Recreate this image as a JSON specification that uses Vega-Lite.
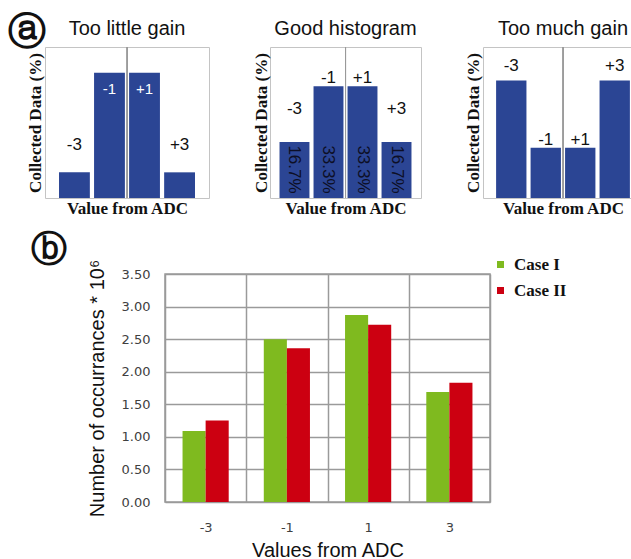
{
  "$schema": "https://vega.github.io/schema/vega-lite/v6.json",
  "background": "white",
  "padding": {"left": 8, "top": 14, "right": 0, "bottom": 0},
  "config": {"font": "Liberation Sans"},
  "title": {
    "text": "ⓐ",
    "anchor": "start",
    "frame": "group",
    "font": "DejaVu Sans",
    "fontSize": 38,
    "fontWeight": "bold",
    "color": "#111111",
    "baseline": "top",
    "offset": -34,
    "dx": -37
  },
  "datasets": {
    "gain": [
      {"panel": "low", "adc": "-3", "pct": 8.5},
      {"panel": "low", "adc": "-1", "pct": 41.5},
      {"panel": "low", "adc": "+1", "pct": 41.5},
      {"panel": "low", "adc": "+3", "pct": 8.5},
      {"panel": "good", "adc": "-3", "pct": 16.7},
      {"panel": "good", "adc": "-1", "pct": 33.3},
      {"panel": "good", "adc": "+1", "pct": 33.3},
      {"panel": "good", "adc": "+3", "pct": 16.7},
      {"panel": "high", "adc": "-3", "pct": 35},
      {"panel": "high", "adc": "-1", "pct": 15},
      {"panel": "high", "adc": "+1", "pct": 15},
      {"panel": "high", "adc": "+3", "pct": 35}
    ],
    "adc": [
      {"value": -3, "case": "Case I", "count": 1.09},
      {"value": -3, "case": "Case II", "count": 1.25},
      {"value": -1, "case": "Case I", "count": 2.50},
      {"value": -1, "case": "Case II", "count": 2.36},
      {"value": 1, "case": "Case I", "count": 2.87},
      {"value": 1, "case": "Case II", "count": 2.72},
      {"value": 3, "case": "Case I", "count": 1.69},
      {"value": 3, "case": "Case II", "count": 1.83}
    ]
  },
  "spacing": 14,
  "resolve": {"legend": {"color": "independent"}, "scale": {"color": "independent"}},
  "vconcat": [
    {
      "spacing": 41,
      "hconcat": [
        {
          "width": 164,
          "height": 151,
          "view": {"stroke": "#c4c4c4"},
          "title": {"text": "Too little gain", "fontSize": 20, "fontWeight": "normal", "color": "#111111", "baseline": "bottom", "offset": -12},
          "data": {"name": "gain"},
          "transform": [{"filter": "datum.panel === 'low'"}],
          "encoding": {
            "x": {
              "field": "adc", "type": "ordinal", "sort": ["-3", "-1", "+1", "+3"],
              "scale": {"paddingInner": 0.12, "paddingOuter": 0.4},
              "axis": {"title": "Value from ADC", "labels": false, "ticks": false, "domain": false, "grid": false, "titleFont": "Liberation Serif", "titleFontWeight": "bold", "titleFontSize": 17, "titleColor": "#111111", "titlePadding": 2}
            }
          },
          "layer": [
            {
              "mark": {"type": "bar", "color": "#2b4594"},
              "encoding": {
                "y": {
                  "field": "pct", "type": "quantitative", "scale": {"domain": [0, 45.4]},
                  "axis": {"title": "Collected Data (%)", "labels": false, "ticks": false, "domain": false, "grid": false, "titleFont": "Liberation Serif", "titleFontWeight": "bold", "titleFontSize": 17, "titleColor": "#111111", "titlePadding": 1}
                }
              }
            },
            {
              "mark": {"type": "rule", "color": "#999999", "xOffset": -2},
              "encoding": {"x": {"datum": "+1", "bandPosition": 0}}
            },
            {
              "transform": [{"filter": "datum.adc === '-3' || datum.adc === '+3'"}],
              "mark": {"type": "text", "baseline": "alphabetic", "dy": -22, "fontSize": 17, "color": "#111111"},
              "encoding": {
                "y": {"field": "pct", "type": "quantitative", "axis": {"title": "Collected Data (%)", "labels": false, "ticks": false, "domain": false, "grid": false, "titleFont": "Liberation Serif", "titleFontWeight": "bold", "titleFontSize": 17, "titleColor": "#111111", "titlePadding": 1}},
                "text": {"field": "adc"}
              }
            },
            {
              "transform": [{"filter": "datum.adc === '-1' || datum.adc === '+1'"}],
              "mark": {"type": "text", "baseline": "top", "dy": 9, "fontSize": 15, "color": "white"},
              "encoding": {
                "y": {"field": "pct", "type": "quantitative", "axis": {"title": "Collected Data (%)", "labels": false, "ticks": false, "domain": false, "grid": false, "titleFont": "Liberation Serif", "titleFontWeight": "bold", "titleFontSize": 17, "titleColor": "#111111", "titlePadding": 1}},
                "text": {"field": "adc"}
              }
            }
          ]
        },
        {
          "width": 151,
          "height": 151,
          "view": {"stroke": "#c4c4c4"},
          "title": {"text": "Good histogram", "fontSize": 20, "fontWeight": "normal", "color": "#111111", "baseline": "bottom", "offset": -12},
          "data": {"name": "gain"},
          "transform": [
            {"filter": "datum.panel === 'good'"},
            {"calculate": "format(datum.pct, '.1f') + '%'", "as": "share"}
          ],
          "encoding": {
            "x": {
              "field": "adc", "type": "ordinal", "sort": ["-3", "-1", "+1", "+3"],
              "scale": {"paddingInner": 0.12, "paddingOuter": 0.28},
              "axis": {"title": "Value from ADC", "labels": false, "ticks": false, "domain": false, "grid": false, "titleFont": "Liberation Serif", "titleFontWeight": "bold", "titleFontSize": 17, "titleColor": "#111111", "titlePadding": 2}
            }
          },
          "layer": [
            {
              "mark": {"type": "bar", "color": "#2b4594"},
              "encoding": {
                "y": {
                  "field": "pct", "type": "quantitative", "scale": {"domain": [0, 43]},
                  "axis": {"title": "Collected Data (%)", "labels": false, "ticks": false, "domain": false, "grid": false, "titleFont": "Liberation Serif", "titleFontWeight": "bold", "titleFontSize": 17, "titleColor": "#111111", "titlePadding": 0}
                }
              }
            },
            {
              "mark": {"type": "rule", "color": "#999999", "xOffset": -2},
              "encoding": {"x": {"datum": "+1", "bandPosition": 0}}
            },
            {
              "transform": [{"filter": "datum.adc === '-3' || datum.adc === '+3'"}],
              "mark": {"type": "text", "baseline": "alphabetic", "dy": -28, "fontSize": 17, "color": "#111111"},
              "encoding": {
                "y": {"field": "pct", "type": "quantitative", "axis": {"title": "Collected Data (%)", "labels": false, "ticks": false, "domain": false, "grid": false, "titleFont": "Liberation Serif", "titleFontWeight": "bold", "titleFontSize": 17, "titleColor": "#111111", "titlePadding": 0}},
                "text": {"field": "adc"}
              }
            },
            {
              "transform": [{"filter": "datum.adc === '-1' || datum.adc === '+1'"}],
              "mark": {"type": "text", "baseline": "alphabetic", "dy": -3, "fontSize": 17, "color": "#111111"},
              "encoding": {
                "y": {"field": "pct", "type": "quantitative", "axis": {"title": "Collected Data (%)", "labels": false, "ticks": false, "domain": false, "grid": false, "titleFont": "Liberation Serif", "titleFontWeight": "bold", "titleFontSize": 17, "titleColor": "#111111", "titlePadding": 0}},
                "text": {"field": "adc"}
              }
            },
            {
              "mark": {"type": "text", "angle": 90, "align": "center", "baseline": "middle", "fontSize": 17, "color": "#0d0f26"},
              "encoding": {
                "y": {"datum": 8.5, "type": "quantitative", "axis": {"title": "Collected Data (%)", "labels": false, "ticks": false, "domain": false, "grid": false, "titleFont": "Liberation Serif", "titleFontWeight": "bold", "titleFontSize": 17, "titleColor": "#111111", "titlePadding": 0}},
                "text": {"field": "share"}
              }
            }
          ]
        },
        {
          "width": 160,
          "height": 151,
          "view": {"stroke": "#c4c4c4"},
          "title": {"text": "Too much gain", "fontSize": 20, "fontWeight": "normal", "color": "#111111", "baseline": "bottom", "offset": -12},
          "data": {"name": "gain"},
          "transform": [{"filter": "datum.panel === 'high'"}],
          "encoding": {
            "x": {
              "field": "adc", "type": "ordinal", "sort": ["-3", "-1", "+1", "+3"],
              "scale": {"paddingInner": 0.12, "paddingOuter": 0.38},
              "axis": {"title": "Value from ADC", "labels": false, "ticks": false, "domain": false, "grid": false, "titleFont": "Liberation Serif", "titleFontWeight": "bold", "titleFontSize": 17, "titleColor": "#111111", "titlePadding": 2}
            }
          },
          "layer": [
            {
              "mark": {"type": "bar", "color": "#2b4594"},
              "encoding": {
                "y": {
                  "field": "pct", "type": "quantitative", "scale": {"domain": [0, 44.4]},
                  "axis": {"title": "Collected Data (%)", "labels": false, "ticks": false, "domain": false, "grid": false, "titleFont": "Liberation Serif", "titleFontWeight": "bold", "titleFontSize": 17, "titleColor": "#111111", "titlePadding": 1}
                }
              }
            },
            {
              "mark": {"type": "rule", "color": "#999999", "xOffset": -2},
              "encoding": {"x": {"datum": "+1", "bandPosition": 0}}
            },
            {
              "transform": [{"filter": "datum.adc === '-3' || datum.adc === '+3'"}],
              "mark": {"type": "text", "baseline": "alphabetic", "dy": -10, "fontSize": 17, "color": "#111111"},
              "encoding": {
                "y": {"field": "pct", "type": "quantitative", "axis": {"title": "Collected Data (%)", "labels": false, "ticks": false, "domain": false, "grid": false, "titleFont": "Liberation Serif", "titleFontWeight": "bold", "titleFontSize": 17, "titleColor": "#111111", "titlePadding": 1}},
                "text": {"field": "adc"}
              }
            },
            {
              "transform": [{"filter": "datum.adc === '-1' || datum.adc === '+1'"}],
              "mark": {"type": "text", "baseline": "alphabetic", "dy": -3, "fontSize": 17, "color": "#111111"},
              "encoding": {
                "y": {"field": "pct", "type": "quantitative", "axis": {"title": "Collected Data (%)", "labels": false, "ticks": false, "domain": false, "grid": false, "titleFont": "Liberation Serif", "titleFontWeight": "bold", "titleFontSize": 17, "titleColor": "#111111", "titlePadding": 1}},
                "text": {"field": "adc"}
              }
            }
          ]
        }
      ]
    },
    {
      "spacing": 19,
      "resolve": {"legend": {"color": "independent"}, "scale": {"color": "independent"}},
      "hconcat": [
        {
          "width": 8,
          "height": 1,
          "view": {"stroke": null},
          "data": {"values": [{"tag": "ⓑ"}]},
          "mark": {"type": "text", "font": "DejaVu Sans", "fontSize": 36, "fontWeight": "bold", "color": "#111111", "align": "center", "baseline": "middle", "dy": -25},
          "encoding": {"text": {"field": "tag"}}
        },
        {
          "width": 325,
          "height": 228,
          "view": {"stroke": "#9a9a9a", "strokeWidth": 1.5},
          "data": {"name": "adc"},
          "mark": {"type": "bar"},
          "encoding": {
            "x": {
              "field": "value", "type": "ordinal",
              "scale": {"paddingInner": 0, "paddingOuter": 0},
              "axis": {"title": "Values from ADC", "labelAngle": 0, "tickBand": "extent", "ticks": false, "tickSize": 0, "domain": false, "grid": true, "gridColor": "#9a9a9a", "gridWidth": 1.5, "gridOpacity": 1, "labelFont": "DejaVu Sans", "labelFontSize": 13, "labelColor": "#404040", "labelPadding": 19, "titleFont": "Liberation Sans", "titleFontSize": 20, "titleFontWeight": "normal", "titleColor": "#111111", "titlePadding": 6}
            },
            "xOffset": {"field": "case", "scale": {"paddingInner": 0, "paddingOuter": 0.76}},
            "y": {
              "field": "count", "type": "quantitative",
              "scale": {"domain": [0, 3.5]},
              "axis": {"title": "Number of occurrances * 10⁶", "values": [0, 0.5, 1, 1.5, 2, 2.5, 3, 3.5], "format": ".2f", "ticks": false, "tickSize": 0, "domain": false, "grid": true, "gridColor": "#9a9a9a", "gridWidth": 1.5, "gridOpacity": 1, "labelFont": "DejaVu Sans", "labelFontSize": 13, "labelColor": "#404040", "labelPadding": 15, "titleFont": "Liberation Sans", "titleFontSize": 20, "titleFontWeight": "normal", "titleColor": "#111111", "titlePadding": 14}
            },
            "color": {
              "field": "case", "type": "nominal",
              "scale": {"domain": ["Case I", "Case II"], "range": ["#7fba1f", "#cc0011"]},
              "legend": {"title": null, "orient": "none", "legendX": 327, "legendY": -18, "padding": 0, "symbolType": "square", "symbolSize": 49, "symbolStrokeWidth": 0, "labelFont": "Liberation Serif", "labelFontWeight": "bold", "labelFontSize": 17, "labelColor": "#111111", "rowPadding": 8, "labelOffset": 5}
            }
          }
        }
      ]
    }
  ]
}
